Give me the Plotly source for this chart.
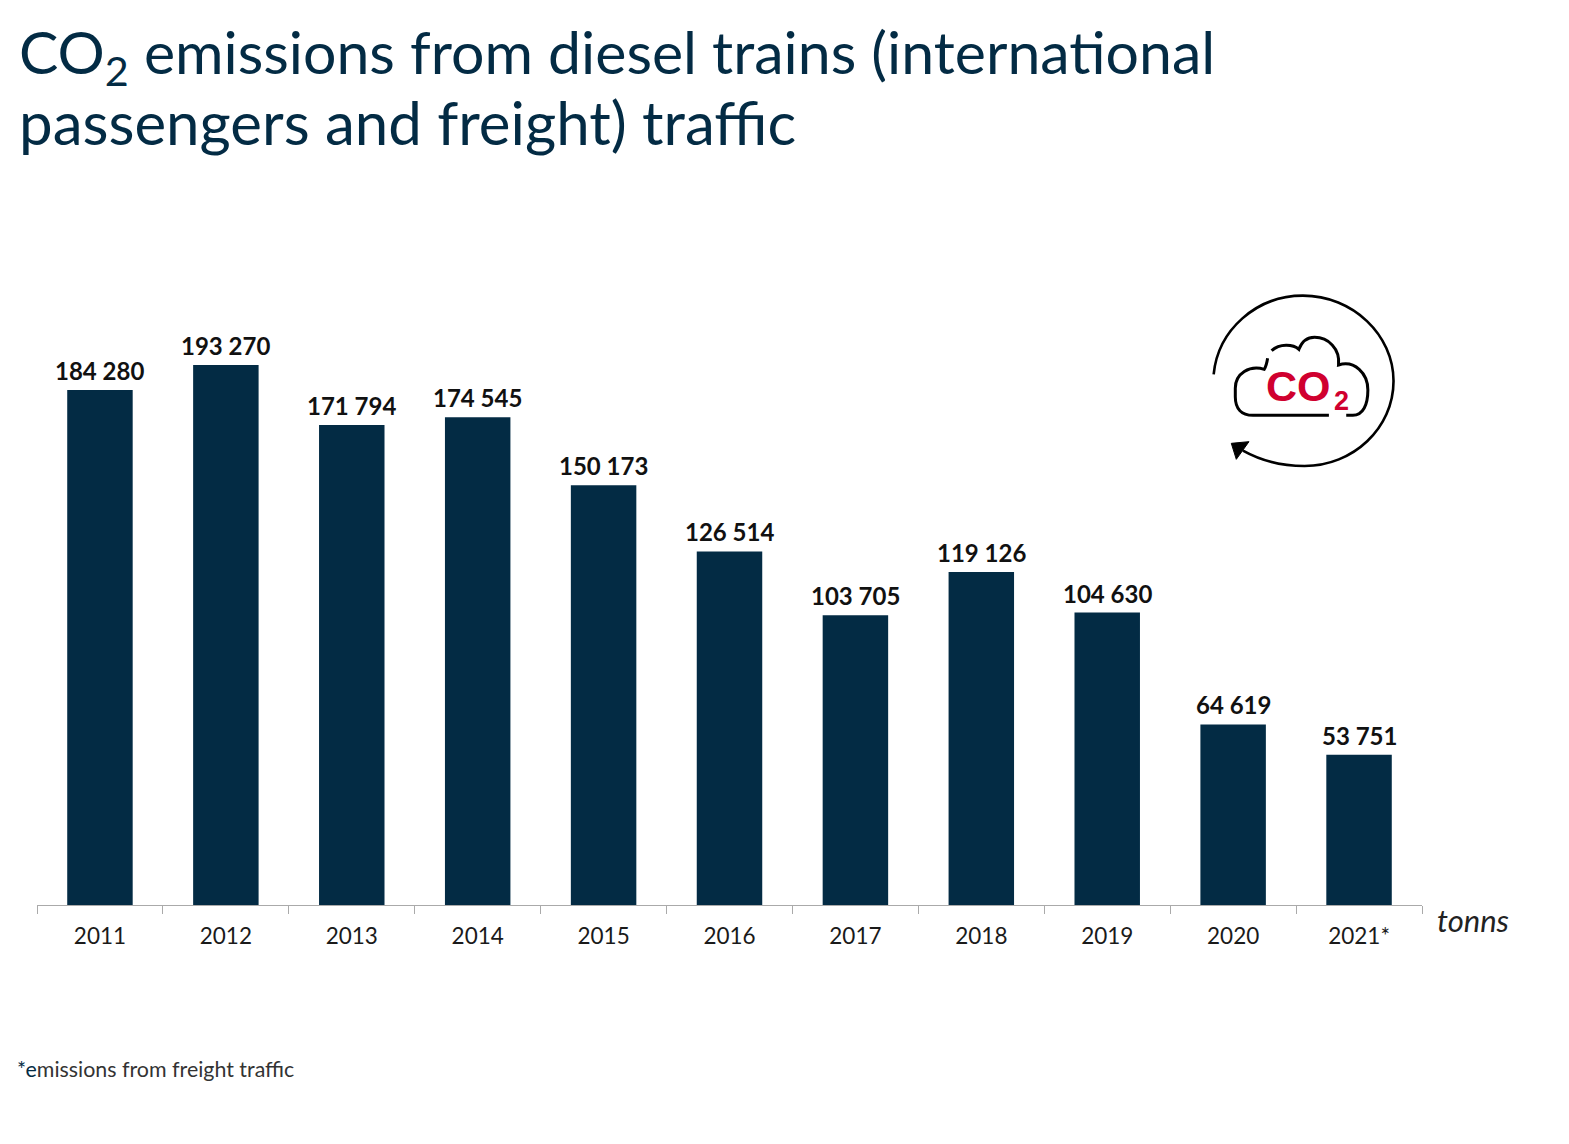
import plotly.graph_objects as go

years = ["2011","2012","2013","2014","2015","2016","2017","2018","2019","2020","2021*"]
emissions = [184280,193270,171794,174545,150173,126514,103705,119126,104630,64619,53751]
labels = [f"{v:,}".replace(",", " ") for v in emissions]

NAVY = "#032b44"
INK = "#1a1a1a"
RED = "#d0002f"
W, H, OFF = 1553, 1128, 8
L, R, T, B = 36.5, 1422.5, 300, 905


def fx(x):
    return (x - L) / (R - L)


def fy(y):
    return (B - y) / (B - T)


def px(x, y):
    return f"{fx(x):.5f},{fy(y):.5f}"


def zpath(cmds):
    """Icon outline, given in reference-crop coordinates."""
    out = []
    for c, pts in cmds:
        out.append(c + " " + " ".join(px(1190 + a / 3, 280 + b / 3) for a, b in pts))
    return " ".join(out)


fig = go.Figure(go.Bar(
    x=years, y=emissions, width=0.52, marker=dict(color=NAVY, line_width=0),
    hoverinfo="x+y",
))

arc = zpath([("M", [(72, 283)]),
             ("C", [(85, 150), (200, 47), (340, 47)]),
             ("C", [(490, 47), (612, 165), (612, 303)]),
             ("C", [(612, 445), (490, 558), (345, 558)]),
             ("C", [(275, 558), (210, 540), (160, 512)])])
arrow = zpath([("M", [(125, 490)]), ("L", [(178, 485)]), ("L", [(140, 538)])]) + " Z"
cloud1 = zpath([("M", [(234, 235)]),
                ("C", [(232, 248), (230, 258), (224, 268)]),
                ("C", [(180, 255), (137, 280), (137, 325)]),
                ("L", [(137, 350)]),
                ("C", [(137, 385), (155, 406), (190, 406)]),
                ("L", [(418, 406)])])
cloud2 = zpath([("M", [(470, 406)]),
                ("L", [(490, 406)]),
                ("C", [(520, 406), (535, 375), (535, 330)]),
                ("C", [(535, 280), (495, 240), (447, 255)]),
                ("C", [(452, 205), (415, 172), (375, 172)]),
                ("C", [(350, 172), (335, 190), (328, 208)]),
                ("C", [(310, 192), (270, 190), (246, 212)])])

ln = dict(color="#000000", width=2.6)
cloud_ln = dict(color="#000000", width=3)
shapes = [dict(type="path", xref="paper", yref="paper", path=arc, line=ln)]
shapes += [dict(type="path", xref="paper", yref="paper", path=p, line=cloud_ln) for p in (cloud1, cloud2)]
shapes.append(dict(type="path", xref="paper", yref="paper", path=arrow,
                   fillcolor="#000000", line=dict(color="#000000", width=1)))


def note(text, x, y, size, color, family="Lato", xanchor="left", yanchor="middle", **font):
    return dict(text=text, xref="paper", yref="paper", x=fx(x), y=fy(y),
                xanchor=xanchor, yanchor=yanchor, showarrow=False,
                font=dict(family=family, size=size, color=color, **font))


annotations = [
    note("CO<sub>2</sub> emissions from diesel trains (international", 16, 55, 59, NAVY),
    note("passengers and freight) traffic", 16, 122, 60, NAVY),
    note("tonns", 1436, 920, 31, "#222222", style="italic"),
    note("<span style='color:#032b44'>*e</span>missions from freight traffic", 14, 1069, 21.4, "#333333"),
    note("CO", 1299, 386, 43, RED, family="Liberation Sans", xanchor="center", weight=700),
    note("2", 1342, 401, 27, RED, family="Liberation Sans", xanchor="center", weight=700),
]
for i, (v, t) in enumerate(zip(emissions, labels)):
    annotations.append(dict(text=t, x=i, y=v, xref="x", yref="y", xanchor="center", yanchor="bottom",
                            yshift=3, showarrow=False,
                            font=dict(family="Lato", size=24, color="#111111", weight=700)))

fig.update_layout(
    width=W, height=H, autosize=False, showlegend=False,
    margin=dict(l=L - OFF, r=W - (R - OFF), t=T - OFF, b=H - (B - OFF), pad=0),
    paper_bgcolor="white", plot_bgcolor="white",
    shapes=shapes, annotations=annotations,
    xaxis=dict(type="category", range=[-0.5, 10.5], tickson="boundaries", ticks="outside", ticklen=8,
               tickcolor="#aaaaaa", tickwidth=1, showline=True, linecolor="#aaaaaa", linewidth=1,
               showgrid=False, zeroline=False, tickangle=0, ticklabelstandoff=11,
               tickfont=dict(family="Lato", size=22.5, color=INK)),
    yaxis=dict(range=[0, 216500], visible=False, showgrid=False, zeroline=False, fixedrange=True),
)

fig.write_html("out.html", config={"displayModeBar": False})
